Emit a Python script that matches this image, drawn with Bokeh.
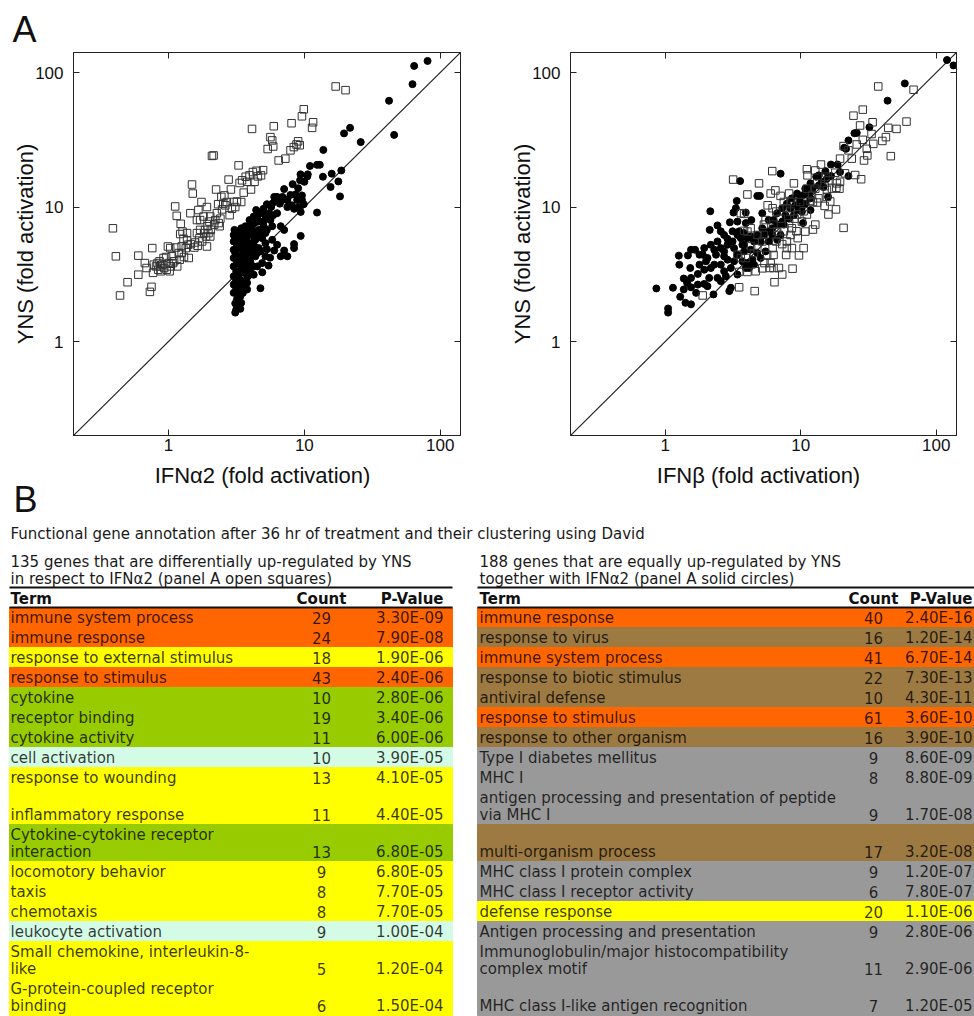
from bokeh.plotting import figure
from bokeh.models import Range1d, LogAxis, FixedTicker, NumeralTickFormatter
from bokeh.layouts import column, row
from bokeh.embed import file_html
from bokeh.resources import INLINE
from bokeh.core.properties import value

# ---------------- data: panel A ----------------
axis_range = (0.2, 141)
tick_values = [1, 10, 100]
identity = [0.1, 1000]
x_labels = ["IFN\u03b12 (fold activation)", "IFN\u03b2 (fold activation)"]
y_label = "YNS (fold activation)"

# IFNa2 vs YNS : open squares (differential genes)
ifna_squares = [
    (0.39, 6.95), (0.41, 4.3), (0.44, 2.2), (0.50, 2.76), (0.60, 4.35), (0.60, 3.14), (0.67, 3.83), (0.69, 3.52), (0.73, 2.34), (0.75, 2.55),
    (0.76, 4.95), (0.77, 3.24), (0.78, 3.73), (0.81, 3.62), (0.83, 3.83), (0.84, 3.42), (0.87, 3.62), (0.88, 3.33), (0.90, 3.73), (0.92, 4.18),
    (0.93, 3.52), (0.96, 4.25), (0.97, 3.42), (0.99, 5.09), (1.0, 3.83), (1.02, 3.33), (1.04, 3.62), (1.06, 4.3), (1.08, 3.83), (1.10, 3.95),
    (1.12, 10.1), (1.14, 5.0), (1.15, 8.6), (1.16, 3.62), (1.19, 4.55), (1.21, 4.06), (1.22, 6.3), (1.23, 7.5), (1.25, 5.09), (1.27, 6.57),
    (1.29, 5.8), (1.30, 4.25), (1.34, 4.95), (1.37, 5.65), (1.39, 5.24), (1.41, 4.18), (1.45, 9.0), (1.46, 5.3), (1.49, 14.7), (1.51, 12.6),
    (1.55, 5.0), (1.57, 5.45), (1.62, 6.4), (1.64, 5.15), (1.66, 9.5), (1.69, 5.87), (1.71, 8.0), (1.71, 6.76), (1.75, 10.9), (1.77, 5.55),
    (1.81, 8.5), (1.83, 6.4), (1.86, 6.76), (1.89, 6.04), (1.92, 10.0), (1.94, 7.2), (1.97, 6.4), (2.0, 7.8), (2.03, 8.5), (2.05, 6.76),
    (2.09, 24.0), (2.15, 24.2), (2.17, 7.4), (2.21, 8.0), (2.24, 13.5), (2.27, 9.0), (2.32, 10.5), (2.34, 7.6), (2.38, 7.2), (2.41, 8.2),
    (2.45, 11.9), (2.48, 9.6), (2.53, 10.6), (2.58, 12.2), (2.62, 10.3), (2.69, 10.9), (2.77, 16.0), (2.82, 8.7), (2.88, 13.5), (2.93, 9.7),
    (3.02, 10.9), (3.10, 10.0), (3.19, 11.0), (3.28, 20.4), (3.34, 15.1), (3.43, 10.9), (3.48, 15.8), (3.58, 12.8), (3.70, 16.8), (3.80, 15.4),
    (3.95, 17.2), (4.05, 13.5), (4.12, 38.1), (4.18, 18.2), (4.3, 15.4), (4.45, 18.6), (4.55, 16.9), (4.8, 17.2), (4.97, 18.8), (5.37, 27),
    (5.63, 33.1), (5.80, 31.3), (5.9, 28.2), (5.96, 39.9), (6.47, 22.2), (7.25, 22.9), (7.91, 26.4), (8.05, 42), (8.37, 27.9), (8.75, 29.2),
    (9.0, 30.8), (9.25, 28.8), (9.6, 47.3), (9.9, 53.3), (11.4, 38.8), (11.6, 42.7), (17.0, 78.8), (20.1, 74),
    (0.86, 3.95), (1.03, 4.95), (1.25, 4.55), (1.37, 6.4), (1.92, 5.09), (1.62, 8.0), (2.03, 6.04),
]

# IFNa2 vs YNS : solid circles (equally regulated genes)
ifna_circles = [
    (64.3, 112), (80.7, 122), (62.5, 82), (42, 61.7), (45.8, 34.4), (21.7, 38.8), (19.6, 35.3), (26, 30.4), (13.8, 26.6), (11, 20.2),
    (12.4, 20.6), (13, 20.6), (13.7, 16.8), (15.9, 17.7), (18.7, 18.7), (17.8, 15.5), (15.6, 14.1), (18.3, 12.0), (12.4, 9.1), (9.3, 15.8),
    (8.2, 14.8), (9.37, 17.5), (10.5, 16.9), (10.6, 17.5), (10, 15.4), (9.0, 13.8), (7.9, 12.3), (8.6, 12.4), (9.6, 11.3), (9.9, 10.5),
    (9.4, 9.2), (7.5, 11.3), (7.1, 13.6), (6.3, 11.9), (6.0, 11.9), (6.7, 11.1), (5.8, 10.6), (5.3, 10.5), (5.0, 9.7), (8.1, 10.3),
    (9.4, 6.1), (8.4, 5.3), (8.4, 4.95), (7.5, 4.3), (7.1, 4.75), (6.7, 4.3), (6.0, 4.75), (7.1, 6.76), (5.6, 4.2), (5.45, 3.67),
    (4.9, 3.27), (4.75, 2.49), (3.79, 3.06), (4.24, 3.14), (4.5, 3.62),
    (3.10, 1.64), (3.38, 1.75), (3.10, 1.92), (3.19, 2.05), (3.02, 2.3), (3.24, 2.44), (3.10, 2.73), (3.38, 2.65), (3.53, 2.8), (3.79, 2.73),
    (3.02, 3.06), (3.24, 3.24), (3.48, 3.27), (3.02, 3.62), (3.19, 3.83), (3.43, 3.62), (3.68, 3.52), (3.89, 3.33), (3.02, 4.18), (3.24, 4.3),
    (3.48, 4.06), (3.73, 4.18), (4.0, 3.95), (3.02, 4.81), (3.28, 4.95), (3.53, 4.68), (3.85, 4.85), (4.12, 4.55), (4.36, 4.3), (3.02, 5.55),
    (3.24, 5.87), (3.48, 5.45), (3.73, 5.7), (4.0, 5.39), (4.3, 5.09), (4.62, 4.95), (3.02, 6.2), (3.28, 6.57), (3.58, 6.4), (3.89, 6.2),
    (4.2, 6.57), (4.49, 6.2), (4.89, 5.87), (3.43, 6.95), (3.68, 7.2), (4.0, 7.4), (4.3, 7.6), (4.62, 7.8), (5.02, 7.2), (3.95, 8.0),
    (4.24, 8.5), (4.55, 8.7), (4.89, 9.0), (5.17, 8.5), (4.42, 9.5), (4.75, 9.0), (5.0, 7.8), (5.5, 9.0), (5.63, 8.0), (5.3, 6.76),
    (5.8, 7.2), (4.75, 6.4), (5.17, 5.39), (4.36, 5.7), (4.0, 6.4), (4.75, 4.68), (4.49, 4.55), (3.33, 5.3), (3.10, 4.55), (3.58, 4.5),
    (3.28, 3.83), (3.58, 3.83), (3.15, 3.33), (3.33, 2.92), (3.15, 2.5), (3.38, 2.17), (3.53, 2.3), (3.63, 2.5), (3.89, 3.62), (4.12, 5.09),
    (3.79, 6.76), (4.12, 7.2), (3.53, 6.04), (3.06, 6.76), (3.19, 5.09), (3.73, 5.24), (4.24, 6.04), (4.62, 6.76), (4.89, 6.4), (5.17, 6.4),
    (5.7, 10), (6.1, 11.3), (6.6, 10.6), (6.3, 9.0), (5.9, 8.7), (6.9, 11.9), (7.4, 11.3), (8.4, 9.7), (9.1, 10.0), (9.6, 12.2),
    (8.85, 11.3), (7.5, 10.0), (6.7, 7.2), (6.3, 5.24), (5.8, 5.7), (5.3, 4.85), (5.17, 4.3), (4.89, 3.83), (3.79, 2.44), (3.43, 1.94),
    (3.15, 1.72), (3.24, 2.24), (3.02, 2.65), (3.85, 3.06), (4.06, 3.24), (4.24, 3.62), (3.68, 4.95), (3.95, 4.3), (3.48, 3.52),
]

# IFNb vs YNS : open squares
ifnb_squares = [
    (37.3, 78.8), (68, 74.5), (28.7, 53), (24.5, 47.8), (33.9, 42.7), (27.4, 40.4), (60.3, 43.2), (50.9, 38.1), (44.2, 38.8), (42.5, 33.1),
    (34.3, 29.5), (28.7, 31.6), (25.9, 29.2), (30.7, 27.1), (20.7, 28.4), (22.5, 26.4), (31, 24.2), (29.3, 22.2), (23.8, 22.9), (46.2, 23.9),
    (27.9, 16.1), (14.1, 20.7), (11.1, 19.1), (11.2, 17.2), (18, 18), (18.5, 15), (18.3, 13.9), (19.3, 13.7), (16, 15.8), (15, 14.3),
    (12.8, 13.7), (15, 10.2), (18.2, 9.6), (16, 8.8), (12.3, 10.9), (13.2, 10.8), (12.1, 12.3), (20.7, 7), (12.8, 7.4), (12.3, 6.8),
    (10.5, 4.95), (9.7, 4.37), (9.3, 6.6), (9.5, 5.87), (8.6, 4.95), (8.7, 3.48), (7.9, 4.95), (7.3, 3.15), (6.4, 2.76), (6.9, 3.52),
    (6.3, 3.52), (5.9, 3.52), (6.0, 3.83), (5.4, 3.83), (4.65, 3.33), (4.04, 3.29), (3.51, 3.29), (4.57, 2.37), (3.51, 2.53), (1.89, 2.2),
    (3.17, 16), (6.16, 18.5), (4.92, 15), (4.04, 12.4), (6.0, 12.6), (8.2, 12.6), (7.1, 12.1), (3.61, 9.0), (3.82, 8.9), (5.7, 10.3),
    (6.2, 9.8), (6.6, 9.25), (7.5, 10.9), (7.9, 9.8), (8.4, 9.25), (7.1, 8.2), (5.5, 8.0), (5.35, 7.4), (6.3, 7.4), (4.27, 6.95),
    (4.04, 6.57), (5.35, 6.2), (6.6, 5.55), (7.3, 5.3), (7.9, 5.55), (5.2, 5.55), (4.78, 4.95), (6.2, 4.95), (3.61, 4.18), (3.93, 4.18),
    (4.52, 4.55), (8.4, 6.2), (9.0, 8.2), (8.2, 7.6), (10.8, 6.57), (10.2, 7.8), (11.1, 13.7), (15.6, 13.4), (13.2, 15), (3.82, 6.65),
    (3.41, 4.42), (7.5, 6.6), (8.6, 6.95), (6.9, 6.2), (6.3, 4.4), (5.65, 4.4), (9.9, 10.9), (11.8, 11.1), (13.5, 11.6), (15.6, 11.9),
    (17, 13.7), (19.5, 22.9), (25.2, 17.3), (21.2, 17.8), (33.3, 34.9), (40, 31), (8.9, 15), (6.5, 13.3), (8.4, 10.9), (10.5, 9.3),
    (9.4, 8.8), (6.7, 6.6), (4.8, 6.2), (4.3, 5.1), (5.2, 3.5), (7.8, 4.4), (11.1, 8.8), (16.5, 11), (15.2, 16.8), (12.8, 18.7),
    (19.5, 15.4),
]

# IFNb vs YNS : solid circles
ifnb_circles = [
    (120, 124), (134, 113), (58.6, 83), (43.7, 61.8), (32.1, 39.2), (25.9, 35.6), (24.9, 35.4), (22.5, 31.3), (21.6, 27.1), (20.9, 27.6),
    (22.5, 17), (18.7, 20.7), (16.7, 20.7), (15.2, 18.5), (13, 16.8), (13.6, 17.2), (15.6, 16.3), (15.9, 11.9), (12.3, 13.9), (7.1, 17.7),
    (3.57, 15.6), (4.78, 12.1), (5.0, 12.1), (3.37, 11.1), (2.15, 9.3), (3.19, 9.1), (3.93, 9.1), (3.32, 9.8), (5.2, 9.0), (4.32, 8.0),
    (3.41, 7.8), (3.0, 7.7), (2.43, 7.3), (2.13, 6.76), (2.57, 6.6), (3.14, 6.6), (3.82, 6.4), (4.52, 5.55), (3.61, 5.87), (2.88, 5.8),
    (2.43, 5.55), (2.17, 5.24), (1.94, 4.95), (1.66, 4.81), (1.47, 4.37), (1.26, 4.35), (1.27, 3.73), (1.53, 3.52), (1.79, 3.73), (2.05, 4.18),
    (2.37, 4.42), (2.72, 4.68), (3.22, 4.95), (3.82, 5.24), (4.27, 4.81), (3.41, 4.42), (2.88, 4.06), (2.57, 3.73), (2.17, 3.52), (1.94, 3.42),
    (1.74, 3.18), (1.55, 2.97), (1.37, 2.94), (1.45, 2.73), (1.55, 2.53), (1.37, 2.44), (1.69, 2.3), (1.94, 2.68), (2.11, 2.97), (2.43, 2.97),
    (2.72, 3.33), (3.05, 3.52), (3.41, 3.15), (2.27, 2.24), (2.97, 2.37), (0.86, 2.48), (1.14, 2.51), (1.29, 2.15), (1.41, 1.94), (1.55, 1.89),
    (1.05, 1.76), (1.05, 1.64), (1.55, 4.81), (1.79, 4.42), (2.72, 6.2), (3.51, 6.6), (4.04, 5.87), (4.78, 6.2), (5.2, 6.95), (5.66, 6.57),
    (6.16, 6.95), (6.7, 7.4), (7.3, 7.8), (7.7, 8.7), (8.4, 9.8), (9.1, 10.3), (9.8, 11.3), (10.5, 12.3), (11.5, 12.6), (12.1, 13.4),
    (13.6, 14.5), (14.3, 15.4), (11.8, 15), (10.8, 13.7), (9.4, 12.6), (8.6, 11.6), (7.9, 10.6), (7.3, 9.8), (6.7, 9.0), (6.3, 8.0),
    (5.8, 8.0), (5.35, 6.2), (5.8, 5.55), (5.06, 5.55), (4.78, 4.55), (4.4, 4.06), (4.04, 3.83), (3.71, 3.95), (3.93, 3.52), (5.06, 4.18),
    (5.5, 4.68), (7.1, 6.2), (7.5, 7.4), (8.2, 8.2), (8.9, 8.7), (9.7, 9.5), (10.2, 10.0), (10.8, 10.6), (11.8, 11.6), (10.2, 9.25),
    (10.4, 7.6), (14.7, 14.1), (16.7, 17), (19.5, 18.2), (11.8, 9.5), (3.05, 2.51), (1.74, 2.65), (2.05, 2.58), (2.57, 2.81), (2.8, 3.06),
    (3.22, 3.95), (2.72, 4.3), (2.3, 3.73), (2.0, 3.95), (1.89, 4.42), (4.27, 6.04), (3.71, 5.24), (3.14, 5.55), (3.82, 4.68), (4.52, 3.73),
    (4.15, 3.52), (2.57, 4.95), (2.3, 4.81), (2.88, 5.24), (3.41, 6.2), (3.93, 7.6), (6.16, 6.2), (6.7, 5.7),
]

# ---------------- data: panel B ----------------
title_text = "Functional gene annotation  after 36 hr of treatment and their clustering using David"
left_caption = ["135 genes that are differentially up-regulated by YNS",
                "in respect to IFN\u03b12 (panel A open squares)"]
right_caption = ["188 genes that are equally up-regulated by YNS",
                 "together with IFN\u03b12 (panel A solid circles)"]
headers = ["Term", "Count", "P-Value"]

left_terms = ["immune system process", "immune response", "response to external stimulus",
              "response to stimulus", "cytokine", "receptor binding", "cytokine activity",
              "cell activation", "response to wounding", "inflammatory response",
              "Cytokine-cytokine receptor\ninteraction", "locomotory behavior", "taxis",
              "chemotaxis", "leukocyte activation", "Small chemokine, interleukin-8-\nlike",
              "G-protein-coupled receptor\nbinding"]
left_counts = [29, 24, 18, 43, 10, 19, 11, 10, 13, 11, 13, 9, 8, 8, 9, 5, 6]
left_pvalues = ["3.30E-09", "7.90E-08", "1.90E-06", "2.40E-06", "2.80E-06", "3.40E-06", "6.00E-06",
                "3.90E-05", "4.10E-05", "4.40E-05", "6.80E-05", "6.80E-05", "7.70E-05", "7.70E-05",
                "1.00E-04", "1.20E-04", "1.50E-04"]
left_groups = ["immune", "immune", "external", "immune", "cytokine", "cytokine", "cytokine",
               "activation", "external", "external", "cytokine", "external", "external",
               "external", "activation", "external", "external"]
left_spans = [1, 1, 1, 1, 1, 1, 1, 1, 1, 2, 2, 1, 1, 1, 1, 2, 2]

right_terms = ["immune response", "response to virus", "immune system process",
               "response to biotic stimulus", "antiviral defense", "response to stimulus",
               "response to other organism", "Type I diabetes mellitus", "MHC I",
               "antigen processing and presentation of peptide\nvia MHC I", "multi-organism process",
               "MHC class I protein complex", "MHC class I receptor activity", "defense response",
               "Antigen processing and presentation",
               "Immunoglobulin/major histocompatibility\ncomplex motif",
               "MHC class I-like antigen recognition"]
right_counts = [40, 16, 41, 22, 10, 61, 16, 9, 8, 9, 17, 9, 6, 20, 9, 11, 7]
right_pvalues = ["2.40E-16", "1.20E-14", "6.70E-14", "7.30E-13", "4.30E-11", "3.60E-10", "3.90E-10",
                 "8.60E-09", "8.80E-09", "1.70E-08", "3.20E-08", "1.20E-07", "7.80E-07", "1.10E-06",
                 "2.80E-06", "2.90E-06", "1.20E-05"]
right_groups = ["immune", "virus", "immune", "virus", "virus", "immune", "virus", "mhc", "mhc",
                "mhc", "virus", "mhc", "mhc", "external", "mhc", "mhc", "mhc"]
right_spans = [1, 1, 1, 1, 1, 1, 1, 1, 1, 2, 2, 1, 1, 1, 1, 2, 2]

group_colors = {"immune": "#ff6600", "external": "#ffff00", "cytokine": "#99cc00",
                "activation": "#d4fbe6", "virus": "#9c7a42", "mhc": "#999999"}

# ---------------- styles ----------------
AX_FONT = "Liberation Sans"
TB_FONT = "DejaVu Sans"
INK = "#222222"
SCATTER_H = 460


def make_scatter(squares, circles, borders, panel_label=""):
    bl, br, bt, bb = borders
    p = figure(width=487, height=SCATTER_H, x_axis_type="log", y_axis_type="log",
               x_range=Range1d(*axis_range), y_range=Range1d(*axis_range),
               output_backend="svg", toolbar_location=None, title=panel_label,
               min_border_left=bl, min_border_right=br, min_border_top=bt, min_border_bottom=bb)
    p.title.text_font = AX_FONT
    p.title.text_font_size = "36px"
    p.title.text_font_style = "normal"
    p.title.text_color = "#111111"
    p.title.align = "left"
    p.title.offset = -61
    p.title.standoff = 6
    p.grid.visible = False
    p.outline_line_color = INK
    p.yaxis.axis_label = y_label
    for ax in (p.xaxis[0], p.yaxis[0]):
        ax.ticker = FixedTicker(ticks=tick_values)
        ax.formatter = NumeralTickFormatter(format="0")
        ax.major_tick_in = 6
        ax.major_tick_out = 0
        ax.minor_tick_line_color = None
        ax.axis_line_color = INK
        ax.major_tick_line_color = INK
        ax.major_label_text_font = AX_FONT
        ax.major_label_text_font_size = "17px"
        ax.major_label_text_color = "#111111"
        ax.axis_label_text_font = AX_FONT
        ax.axis_label_text_font_size = "22px"
        ax.axis_label_text_font_style = "normal"
        ax.axis_label_text_color = "#111111"
    p.xaxis[0].major_label_standoff = 3
    p.yaxis[0].major_label_standoff = 10
    p.yaxis[0].axis_label_standoff = -6
    for loc in ("above", "right"):
        ax = LogAxis(ticker=FixedTicker(ticks=tick_values), major_tick_in=6, major_tick_out=0,
                     minor_tick_line_color=None, major_label_text_font_size="1px",
                     major_label_text_alpha=0, major_label_standoff=0,
                     axis_line_color=INK, major_tick_line_color=INK)
        p.add_layout(ax, loc)

    p.line(identity, identity, line_color=INK, line_width=1.2)
    cx = [c[0] for c in circles]
    cy = [c[1] for c in circles]
    sx = [s[0] for s in squares]
    sy = [s[1] for s in squares]
    p.scatter(cx, cy, marker="circle", size=7, fill_color="black", line_color="black")
    p.scatter(sx, sy, marker="square", size=7.5, fill_color=None, line_color="#333333", line_width=1.0)
    return p


pA = make_scatter(ifna_squares, ifna_circles, (73, 27, 52, SCATTER_H - 436), "A")
pB = make_scatter(ifnb_squares, ifnb_circles, (83, 18, 51, SCATTER_H - 435))

# ---------------- lower panel (x-axis titles of A + table B) ----------------
# y values below are measured in page pixels from the top of the page
t = figure(width=974, height=1016 - SCATTER_H, x_range=Range1d(0, 974), y_range=Range1d(1016, SCATTER_H),
           output_backend="svg", toolbar_location=None, min_border=0,
           x_axis_location=None, y_axis_location=None)
t.grid.visible = False
t.outline_line_color = None

t.text(x=[262, 758], y=[475, 475], text=x_labels, text_align="center", text_baseline="middle",
       text_font=value(AX_FONT), text_font_size="22px", text_color="#111111")

ROW_START = 607
SINGLE = 20
DOUBLE = 37
LINE_STEP = 17
FS = "15px"


def draw_table(terms, counts, pvalues, groups, spans, x0, x1, x_term, x_count, x_pval, caption):
    tops = []
    y = ROW_START
    for s in spans:
        tops.append(y)
        y += SINGLE if s == 1 else DOUBLE
    bottoms = [tp + (SINGLE if s == 1 else DOUBLE) for tp, s in zip(tops, spans)]
    fills = [group_colors[g] for g in groups]
    t.quad(left=x0, right=x1, top=tops, bottom=bottoms,
           fill_color=fills, line_color=fills, line_width=1)
    tx, ty, tt = [], [], []
    cy = []
    for term, tp, s in zip(terms, tops, spans):
        lines = term.split("\n")
        lines = [""] * (s - len(lines)) + lines
        for i, ln in enumerate(lines):
            if ln:
                tx.append(x_term)
                ty.append(tp + 10 + LINE_STEP * i)
                tt.append(ln)
        cy.append(tp + 10 + LINE_STEP * (s - 1))
    common = dict(text_font=value(TB_FONT), text_font_size=FS, text_baseline="middle",
                  text_color="black", text_alpha=0.78)
    t.text(x=tx, y=ty, text=tt, text_align="left", **common)
    t.text(x=[x_count] * len(counts), y=cy, text=[str(c) for c in counts], text_align="center", **common)
    t.text(x=[x_pval] * len(pvalues), y=cy, text=pvalues, text_align="right", **common)
    t.text(x=[x_term, x_term], y=[561, 578.5], text=caption, text_align="left",
           text_font=value(TB_FONT), text_font_size=FS, text_baseline="middle", text_color="#1a1a1a")
    t.segment(x0=[x0, x0], x1=[x1, x1], y0=[587, 607], y1=[587, 607], line_color="#111111", line_width=2)
    hdr = dict(text_font=value(TB_FONT), text_font_size=FS, text_font_style="bold",
               text_baseline="middle", text_color="#111111")
    t.text(x=[x_term], y=[598.5], text=[headers[0]], text_align="left", **hdr)
    t.text(x=[x_count], y=[598.5], text=[headers[1]], text_align="center", **hdr)
    t.text(x=[x_pval], y=[598.5], text=[headers[2]], text_align="right", **hdr)


draw_table(left_terms, left_counts, left_pvalues, left_groups, left_spans,
           9, 452, 10, 321, 443, left_caption)
draw_table(right_terms, right_counts, right_pvalues, right_groups, right_spans,
           477, 974, 479, 873, 972, right_caption)

t.text(x=[10], y=[533], text=[title_text], text_align="left", text_baseline="middle",
       text_font=value(TB_FONT), text_font_size=FS, text_color="#1a1a1a")
t.text(x=[13], y=[499], text=["B"], text_align="left", text_baseline="middle",
       text_font=value(AX_FONT), text_font_size="36px", text_color="#111111")

layout = column(row(pA, pB, spacing=0), t, spacing=0)
open("out.html", "w").write(file_html(layout, INLINE))
